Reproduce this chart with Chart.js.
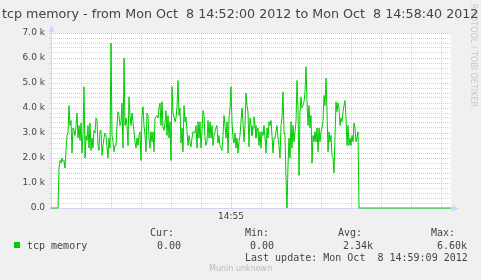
<!DOCTYPE html>
<html>
<head>
<meta charset="utf-8">
<script src="https://cdn.jsdelivr.net/npm/chart.js@4/dist/chart.umd.min.js"></script>
<style>
  body { margin: 0; background: #f0f0f0; }
  #wrap { position: relative; width: 481px; height: 280px; overflow: hidden; }
  #chart { position: absolute; left: 0; top: 0; }
  .txt { position: absolute; white-space: pre; color: #444; line-height: 12px; }
  .sans { font-family: "DejaVu Sans", sans-serif; }
  .mono { font-family: "DejaVu Sans Mono", monospace; font-size: 10px; }
</style>
</head>
<body>
<div id="wrap">
  <canvas id="chart" width="481" height="280"></canvas>
  <div class="txt sans" id="watermark" style="left:479px; top:4px; font-size:8px; color:#c8c8c8; transform:rotate(90deg); transform-origin:0 0;">RRDTOOL / TOBI OETIKER</div>
  <div class="txt sans" id="title" style="left:2px; top:6px; font-size:12.7px; line-height:15px;"></div>
  <div class="txt mono" style="left:150px; top:227px;">Cur:</div>
  <div class="txt mono" style="left:245px; top:227px;">Min:</div>
  <div class="txt mono" style="left:338px; top:227px;">Avg:</div>
  <div class="txt mono" style="left:431px; top:227px;">Max:</div>
  <div style="position:absolute; left:14px; top:242px; width:6px; height:6px; background:#00cc00;"></div>
  <div class="txt mono" id="series-name" style="left:27px; top:240px;"></div>
  <div class="txt mono" id="cur" style="left:157px; top:240px;"></div>
  <div class="txt mono" id="min" style="left:250px; top:240px;"></div>
  <div class="txt mono" id="avg" style="left:343px; top:240px;"></div>
  <div class="txt mono" id="max" style="left:437px; top:240px;"></div>
  <div class="txt mono" id="updated" style="left:245px; top:252px;"></div>
  <div class="txt sans" style="left:209px; top:263px; font-size:8px; color:#bbb;">Munin unknown</div>
</div>
<script>
const seriesName = "tcp memory";
const titleText = "tcp memory - from Mon Oct  8 14:52:00 2012 to Mon Oct  8 14:58:40 2012";
const lastUpdate = "Last update: Mon Oct  8 14:59:09 2012";
const summary = { cur: "0.00", min: "0.00", avg: "2.34k", max: "6.60k" };

// one sample per second from 14:52:00, values in thousands
const memoryK = [
  0, 0, 0, 0, 0, 0, 0, 0, 1.6, 1.9, 1.8, 2.0, 1.85, 1.9, 1.6, 2.3, 2.9, 3.0, 4.1, 3.3,
  3.5, 2.2, 3.2, 3.1, 2.9, 3.3, 3.8, 2.8, 3.3, 2.7, 3.4, 2.2, 3.0, 4.85, 2.0, 2.9, 2.7, 3.3, 2.4, 3.4,
  2.3, 2.8, 2.4, 3.1, 3.0, 3.6, 3.5, 2.5, 2.3, 3.1, 3.1, 2.1, 2.5, 2.8, 3.0, 2.9, 2.4, 2.0, 2.8, 2.4,
  6.6, 2.9, 2.65, 2.25, 2.5, 2.5, 3.3, 3.85, 3.7, 3.3, 3.45, 4.2, 2.4, 6.0, 3.3, 3.6, 3.3, 2.5, 4.45, 3.7,
  3.3, 3.8, 3.45, 3.05, 2.65, 2.4, 2.8, 2.5, 2.9, 3.05, 1.9, 3.7, 4.05, 3.3, 2.9, 2.25, 3.8, 3.7, 2.8, 2.4,
  3.05, 2.65, 3.05, 2.25, 3.6, 3.65, 3.7, 3.6, 4.0, 4.2, 3.3, 4.25, 3.2, 3.1, 3.45, 3.9, 2.9, 3.7, 2.8, 3.45,
  1.9, 4.85, 3.8, 3.65, 3.45, 3.6, 4.05, 5.1, 3.7, 4.0, 2.6, 3.2, 2.25, 4.1, 3.45, 3.65, 3.05, 2.5, 2.9, 2.65,
  2.45, 2.8, 3.05, 3.05, 3.0, 3.3, 2.4, 3.45, 2.8, 3.45, 2.4, 3.05, 3.9, 3.7, 2.8, 2.5, 2.65, 3.5, 2.8, 3.45,
  2.8, 3.3, 2.5, 2.9, 3.05, 3.2, 3.3, 2.6, 2.9, 2.5, 2.4, 2.3, 2.9, 3.7, 3.3, 2.8, 3.45, 2.2, 3.6, 4.0,
  4.85, 3.45, 2.8, 2.6, 3.0, 2.4, 2.8, 2.2, 2.65, 2.9, 3.45, 4.0, 3.45, 2.65, 3.3, 4.6, 4.1, 3.85, 2.45, 3.6,
  3.3, 2.9, 3.2, 3.65, 3.3, 2.8, 3.05, 3.2, 2.5, 3.05, 2.4, 3.05, 2.9, 3.3, 2.8, 2.2, 3.2, 2.8, 3.45, 3.3,
  3.5, 2.9, 2.2, 2.8, 2.8, 3.05, 3.3, 2.8, 2.5, 2.0, 3.3, 3.6, 4.65, 3.05, 2.9, 1.2, 0.0, 1.7, 2.8, 2.0,
  3.45, 2.4, 3.3, 2.65, 3.05, 3.45, 5.1, 4.0, 1.3, 3.85, 4.45, 4.0, 4.1, 4.25, 4.65, 5.65, 4.25, 3.3, 4.1, 3.2,
  3.7, 1.8, 2.9, 2.65, 3.05, 2.65, 3.2, 2.25, 3.2, 2.65, 3.05, 3.2, 3.45, 4.5, 4.1, 5.2, 3.85, 2.25, 3.05, 2.65,
  2.9, 2.1, 2.0, 1.4, 2.9, 4.25, 3.85, 4.2, 4.0, 3.3, 3.6, 3.45, 3.85, 4.1, 4.3, 3.6, 2.5, 3.3, 2.5, 2.8,
  2.5, 2.9, 2.65, 3.4, 3.2, 2.65, 2.8, 3.05, 0
];
// after the last sample the value stays at the current reading until the end of the window
const windowSeconds = 400;
const curValueK = 0;

const timeTicks = [30, 60, 90, 120, 150, 180, 210, 240, 270, 300, 330, 360, 390];
const timeLabels = { 180: "14:55" };
const yTickValues = [0, 1, 2, 3, 4, 5, 6, 7];
const yTickLabels = ["0.0", "1.0 k", "2.0 k", "3.0 k", "4.0 k", "5.0 k", "6.0 k", "7.0 k"];

document.getElementById("title").textContent = titleText;
document.getElementById("series-name").textContent = seriesName;
document.getElementById("cur").textContent = summary.cur;
document.getElementById("min").textContent = summary.min;
document.getElementById("avg").textContent = summary.avg;
document.getElementById("max").textContent = summary.max;
document.getElementById("updated").textContent = lastUpdate;

const points = memoryK.map((v, i) => ({ x: i, y: v }));
points.push({ x: windowSeconds, y: curValueK });

const axisColor = "#cfd6f8";
const majorGrid = "rgba(230, 90, 90, 0.45)";
const minorGrid = "rgba(150, 150, 150, 0.4)";

function isMajorY(v) {
  return Math.abs(v - Math.round(v)) < 1e-6;
}

// white canvas behind the plot, like rrdtool
const canvasBg = {
  id: "canvasBg",
  beforeDraw(chart) {
    const { ctx, chartArea } = chart;
    ctx.save();
    ctx.fillStyle = "#ffffff";
    ctx.fillRect(chartArea.left, chartArea.top, chartArea.right - chartArea.left, chartArea.bottom - chartArea.top);
    ctx.restore();
  },
};

// rrdtool style axes with arrows, drawn under the data line
const axesPlugin = {
  id: "rrdAxes",
  beforeDatasetsDraw(chart) {
    const { ctx, chartArea } = chart;
    const l = chartArea.left, b = chartArea.bottom, t = chartArea.top, r = chartArea.right;
    ctx.save();
    ctx.strokeStyle = axisColor;
    ctx.fillStyle = axisColor;
    ctx.lineWidth = 1;
    ctx.beginPath();
    ctx.moveTo(l + 0.5, b + 2);
    ctx.lineTo(l + 0.5, t - 5);
    ctx.moveTo(l - 2, b + 0.5);
    ctx.lineTo(r + 4, b + 0.5);
    ctx.stroke();
    ctx.beginPath();
    ctx.moveTo(l + 0.5, t - 8);
    ctx.lineTo(l - 2.5, t - 1);
    ctx.lineTo(l + 3.5, t - 1);
    ctx.closePath();
    ctx.fill();
    ctx.beginPath();
    ctx.moveTo(r + 8, b + 0.5);
    ctx.lineTo(r + 1, b - 2.5);
    ctx.lineTo(r + 1, b + 3.5);
    ctx.closePath();
    ctx.fill();
    ctx.restore();
  },
};

const ctx = document.getElementById("chart");
const chart = new Chart(ctx, {
  type: "line",
  data: {
    datasets: [
      {
        label: seriesName,
        data: points,
        borderColor: "#00cc00",
        borderWidth: 1,
        pointRadius: 0,
        tension: 0,
        fill: false,
        clip: 4,
      },
    ],
  },
  options: {
    responsive: false,
    animation: false,
    events: [],
    layout: { padding: { left: 0, top: 33, right: 30, bottom: 0 } },
    plugins: { legend: { display: false }, tooltip: { enabled: false } },
    scales: {
      x: {
        type: "linear",
        min: 0,
        max: windowSeconds,
        afterBuildTicks: (axis) => {
          axis.ticks = timeTicks.map((v) => ({ value: v }));
        },
        afterFit: (axis) => {
          axis.height = 72;
        },
        ticks: {
          autoSkip: false,
          maxRotation: 0,
          padding: 3,
          color: "#444",
          font: { family: "DejaVu Sans", size: 9 },
          callback: (v) => timeLabels[v] || "",
        },
        grid: {
          drawTicks: false,
          lineWidth: 1,
          color: (c) => (timeLabels[c.tick.value] ? majorGrid : minorGrid),
        },
        border: { display: false, dash: [1, 1] },
      },
      y: {
        min: 0,
        max: 7,
        afterBuildTicks: (axis) => {
          const ticks = [];
          for (let i = 0; i <= 35; i++) ticks.push({ value: i / 5 });
          axis.ticks = ticks;
        },
        afterFit: (axis) => {
          axis.width = 51;
        },
        ticks: {
          autoSkip: false,
          padding: 4,
          color: "#444",
          font: { family: "DejaVu Sans", size: 9 },
          callback: (v) => {
            if (!isMajorY(v)) return "";
            const i = yTickValues.indexOf(Math.round(v));
            return i >= 0 ? yTickLabels[i] : "";
          },
        },
        grid: {
          drawTicks: true,
          tickLength: 2,
          tickColor: axisColor,
          lineWidth: (c) => (c.tick.value === 0 ? 0 : 1),
          color: (c) => (isMajorY(c.tick.value) ? majorGrid : minorGrid),
        },
        border: { display: false, dash: [1, 1] },
      },
    },
  },
  plugins: [canvasBg, axesPlugin],
});
</script>
</body>
</html>
